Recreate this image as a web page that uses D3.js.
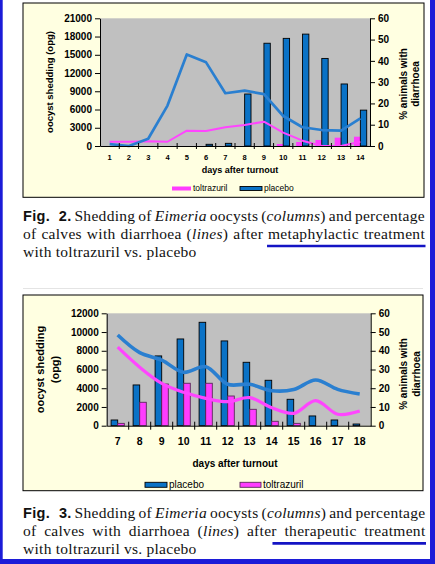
<!DOCTYPE html>
<html>
<head>
<meta charset="utf-8">
<script src="https://cdn.jsdelivr.net/npm/d3@7"></script>
<style>
  body { margin: 0; background: #fff; }
  svg { display: block; }
</style>
</head>
<body>
<script>
// ---- data: figure 2 (metaphylactic) ----
var days1 = [1, 2, 3, 4, 5, 6, 7, 8, 9, 10, 11, 12, 13, 14];
var placeboOpg1 = [0, 0, 0, 0, 0, 280, 440, 8550, 16900, 17700, 18400, 14400, 10200, 5900];
var toltrazurilOpg1 = [0, 0, 0, 0, 0, 0, 0, 0, 0, 330, 660, 990, 1370, 1530];
var placeboPct1 = [0.9, 0, 3.4, 19, 43, 39.3, 24.8, 26, 24.4, 14.1, 8.8, 7.5, 7.2, 13];
var toltrazurilPct1 = [2, 2, 2.2, 2, 7.2, 7, 8.8, 9.9, 11.4, 6.3, 2.5, 0, 0, 2];
var leftTicks1 = [0, 3000, 6000, 9000, 12000, 15000, 18000, 21000];

// ---- data: figure 3 (therapeutic) ----
var days2 = [7, 8, 9, 10, 11, 12, 13, 14, 15, 16, 17, 18];
var placeboOpg2 = [610, 4350, 7450, 9260, 11040, 9050, 6770, 4850, 2820, 1040, 610, 180];
var toltrazurilOpg2 = [250, 2500, 4450, 4530, 4530, 3170, 1750, 470, 250, 0, 0, 0];
var placeboPct2 = [48.4, 39, 35, 28.5, 31.5, 22.1, 22.1, 18.7, 19.3, 24.4, 19.4, 16.9];
var toltrazurilPct2 = [41.9, 31.2, 22.6, 17.8, 14.6, 12.8, 15, 9.6, 6.6, 13.4, 6.1, 7.8];
var leftTicks2 = [0, 2000, 4000, 6000, 8000, 10000, 12000];

var rightTicks = [0, 10, 20, 30, 40, 50, 60];

// ---- captions ----
var caption1 = [
  ["#Fig.", "#2.", "Shedding", "of", "*Eimeria*", "oocysts", "(*columns*)", "and", "percentage"],
  ["of", "calves", "with", "diarrhoea", "(*lines*)", "after", "metaphylactic", "treatment"],
  ["with", "toltrazuril", "vs.", "placebo"]
];
var caption2 = [
  ["#Fig.", "#3.", "Shedding", "of", "*Eimeria*", "oocysts", "(*columns*)", "and", "percentage"],
  ["of", "calves", "with", "diarrhoea", "(*lines*)", "after", "therapeutic", "treatment"],
  ["with", "toltrazuril", "vs.", "placebo"]
];

var W = 435, H = 564;
var sans = "'Liberation Sans', Arial, sans-serif";
var serif = "'Liberation Serif', 'Times New Roman', serif";
var blueBar = "#0a72c6", blueLine = "#2a7fd0", pinkBar = "#ff3cff", pinkLine = "#ff45ff";

var svg = d3.select("body").append("svg").attr("width", W).attr("height", H);
svg.append("rect").attr("width", W).attr("height", H).attr("fill", "#fff");

var drawPanel = function(o) {
    var g = svg.append("g");
    g.append("rect")
        .attr("x", o.box[0]).attr("y", o.box[1])
        .attr("width", o.box[2] - o.box[0]).attr("height", o.box[3] - o.box[1])
        .attr("fill", "#ffffe1").attr("stroke", "#000").attr("stroke-width", 1);

    var x = d3.scaleBand().domain(o.days).range([o.plot[0], o.plot[2]]);
    var yL = d3.scaleLinear().domain([0, d3.max(o.leftTicks)]).range([o.plot[3], o.plot[1]]);
    var yR = d3.scaleLinear().domain([0, 60]).range([o.plot[3], o.plot[1]]);
    var bw = x.bandwidth();
    var xs = d3.scaleBand().domain(o.series.map(function(s){ return s.name; }))
        .range([bw * o.pad, bw * (1 - o.pad)]);

    g.append("rect")
        .attr("x", o.plot[0]).attr("y", o.plot[1])
        .attr("width", o.plot[2] - o.plot[0]).attr("height", o.plot[3] - o.plot[1])
        .attr("fill", "#c0c0c0");

    // columns
    o.series.forEach(function(s) {
        g.append("g").selectAll("rect")
            .data(o.days.map(function(d, i){ return {day: d, v: s.opg[i]}; }).filter(function(d){ return d.v > 0; }))
            .enter().append("rect")
            .attr("x", function(d){ return x(d.day) + xs(s.name); })
            .attr("y", function(d){ return yL(d.v); })
            .attr("width", xs.bandwidth())
            .attr("height", function(d){ return yL(0) - yL(d.v); })
            .attr("fill", s.bar)
            .attr("stroke", s.stroke || "none")
            .attr("stroke-width", 0.9);
    });

    // lines
    o.series.forEach(function(s) {
        var line = d3.line()
            .x(function(d, i){ return x(o.days[i]) + bw / 2; })
            .y(function(d){ return yR(d); })
            .curve(o.curve);
        g.append("path").datum(s.pct)
            .attr("d", line)
            .attr("fill", "none")
            .attr("stroke", s.line)
            .attr("stroke-width", s.lw)
            .attr("stroke-linejoin", "round");
    });

    var styleAxis = function(ax, size) {
        ax.attr("font-family", sans).attr("font-size", size).attr("font-weight", "bold");
        ax.selectAll("path, line").attr("stroke", "#000");
        ax.selectAll("text").attr("fill", "#000");
    };

    var axL = g.append("g").attr("transform", "translate(" + o.plot[0] + ",0)")
        .call(d3.axisLeft(yL).tickValues(o.leftTicks).tickSize(5).tickSizeOuter(0).tickPadding(3).tickFormat(d3.format("d")));
    styleAxis(axL, o.yFont);

    var axR = g.append("g").attr("transform", "translate(" + o.plot[2] + ",0)")
        .call(d3.axisRight(yR).tickValues(rightTicks).tickSize(5).tickSizeOuter(0).tickPadding(3));
    styleAxis(axR, o.yFont);

    var axB = g.append("g").attr("transform", "translate(0," + o.plot[3] + ")")
        .call(d3.axisBottom(x).tickSize(0).tickSizeOuter(0).tickPadding(o.xPad));
    styleAxis(axB, o.xFont);

    // tick marks between days, crossing the axis
    g.append("g").selectAll("line")
        .data(o.days.slice(1))
        .enter().append("line")
        .attr("x1", function(d){ return x(d); }).attr("x2", function(d){ return x(d); })
        .attr("y1", o.plot[3] - o.xTick).attr("y2", o.plot[3] + o.xTick)
        .attr("stroke", "#000");

    // axis titles
    g.append("text")
        .attr("x", (o.plot[0] + o.plot[2]) / 2 + o.xTitleDx).attr("y", o.xTitleY)
        .attr("text-anchor", "middle")
        .attr("font-family", sans).attr("font-weight", "bold").attr("font-size", o.xTitleFont)
        .text("days after turnout");

    var rot = function(lines, xs0, cy, size) {
        lines.forEach(function(t, i) {
            g.append("text")
                .attr("transform", "translate(" + xs0[i] + "," + cy + ") rotate(-90)")
                .attr("text-anchor", "middle").attr("dominant-baseline", "central")
                .attr("font-family", sans).attr("font-weight", "bold").attr("font-size", size)
                .text(t);
        });
    };
    rot(o.leftTitle, o.leftTitleX, o.leftTitleY, o.leftTitleFont);
    rot(["% animals with", "diarrhoea"], o.rightTitleX, o.rightTitleY, o.rightTitleFont);

    // legend
    var lg = g.append("g");
    o.legend.forEach(function(l) {
        var s = o.series.filter(function(s){ return s.name === l.name; })[0];
        lg.append("rect")
            .attr("x", l.x).attr("y", o.legendY - o.swatchH)
            .attr("width", l.w).attr("height", o.swatchH)
            .attr("fill", s.bar).attr("stroke", s.stroke || "none").attr("stroke-width", 0.9);
        lg.append("text")
            .attr("x", l.x + l.w + 2).attr("y", o.legendY + 0.5)
            .attr("font-family", sans).attr("font-size", o.legendFont)
            .text(s.name);
    });
};

drawPanel({
    box: [23, 3, 424, 197.3],
    plot: [100, 18.3, 370, 146],
    days: days1,
    leftTicks: leftTicks1,
    pad: 0.17,
    series: [
        {name: "toltrazuril", opg: toltrazurilOpg1, pct: toltrazurilPct1, bar: pinkBar, line: pinkLine, lw: 2},
        {name: "placebo", opg: placeboOpg1, pct: placeboPct1, bar: blueBar, stroke: "#000", line: blueLine, lw: 2.7}
    ],
    curve: d3.curveLinear,
    yFont: 10, xFont: 7.5, xPad: 9, xTick: 3,
    xTitleY: 173, xTitleDx: 5, xTitleFont: 9,
    leftTitle: ["oocyst shedding (opg)"], leftTitleX: [49], leftTitleY: 82, leftTitleFont: 9.5,
    rightTitleX: [403, 415], rightTitleY: 84, rightTitleFont: 10,
    legend: [{name: "toltrazuril", x: 172, w: 19}, {name: "placebo", x: 240, w: 22}],
    legendY: 190.5, swatchH: 4, legendFont: 8.5
});

drawPanel({
    box: [23, 295, 423, 490.7],
    plot: [106.7, 313.3, 370.7, 425.7],
    days: days2,
    leftTicks: leftTicks2,
    pad: 0.2,
    series: [
        {name: "placebo", opg: placeboOpg2, pct: placeboPct2, bar: blueBar, stroke: "#000", line: blueLine, lw: 3.6},
        {name: "toltrazuril", opg: toltrazurilOpg2, pct: toltrazurilPct2, bar: pinkBar, stroke: "#5a2a5a", line: pinkLine, lw: 3.2}
    ],
    curve: d3.curveCatmullRom.alpha(0.5),
    yFont: 10, xFont: 10.5, xPad: 12, xTick: 4,
    xTitleY: 466.5, xTitleDx: -3.7, xTitleFont: 10,
    leftTitle: ["oocyst shedding", "(opg)"], leftTitleX: [40, 55], leftTitleY: 369.5, leftTitleFont: 11,
    rightTitleX: [403, 416], rightTitleY: 374, rightTitleFont: 10,
    legend: [{name: "placebo", x: 145, w: 22}, {name: "toltrazuril", x: 240, w: 21}],
    legendY: 487.3, swatchH: 5, legendFont: 10
});

// faint rule between the two figures
svg.append("line").attr("x1", 23).attr("x2", 423).attr("y1", 288.5).attr("y2", 288.5)
    .attr("stroke", "#e4e4e4").attr("stroke-width", 1);

// ---- justified captions ----
var drawCaption = function(lines, baselines, x0, x1, ul) {
    var g = svg.append("g");
    var size = 15.5;
    var positions = [];
    lines.forEach(function(words, li) {
        var nodes = words.map(function(w) {
            var t = g.append("text").attr("y", baselines[li]).attr("font-size", size)
                .attr("fill", "#111").attr("letter-spacing", 0.3);
            if (w.charAt(0) === "#") {
                t.append("tspan").attr("font-family", sans).attr("font-weight", "bold")
                    .attr("font-size", size - 1).text(w.slice(1));
            } else {
                w.split("*").forEach(function(part, k) {
                    if (!part) return;
                    t.append("tspan").attr("font-family", serif)
                        .attr("font-style", k % 2 ? "italic" : "normal").text(part);
                });
            }
            return t;
        });
        var widths = nodes.map(function(t){ return t.node().getComputedTextLength(); });
        var extra = words.map(function(w){ return w === "#Fig." ? 6 : 0; });
        var total = d3.sum(widths) + d3.sum(extra);
        var gap = li === lines.length - 1 ? size * 0.25 : (x1 - x0 - total) / (words.length - 1);
        var cx = x0;
        var pos = [];
        nodes.forEach(function(t, i) {
            t.attr("x", cx);
            pos.push(cx);
            cx += widths[i] + extra[i] + gap;
        });
        positions.push(pos);
    });
    var ux = positions[ul.line][ul.word] + ul.dx;
    svg.append("line")
        .attr("x1", ux).attr("x2", x1 + 0.5)
        .attr("y1", baselines[ul.line] + 7.5).attr("y2", baselines[ul.line] + 7.5)
        .attr("stroke", "#1414c4").attr("stroke-width", 2.7);
};

drawCaption(caption1, [220.5, 238.5, 256.5], 23, 425, {line: 1, word: 6, dx: -1});
drawCaption(caption2, [518, 535.8, 553.5], 23, 425.5, {line: 1, word: 6, dx: -12});

// page frame
svg.append("rect").attr("x", 0).attr("y", 0).attr("width", 2.7).attr("height", H).attr("fill", "#1c1cd8");
svg.append("rect").attr("x", 430).attr("y", 0).attr("width", 5).attr("height", H).attr("fill", "#1c1cd8");
svg.append("rect").attr("x", 0).attr("y", 559).attr("width", W).attr("height", 5).attr("fill", "#1c1cd8");
</script>
</body>
</html>
